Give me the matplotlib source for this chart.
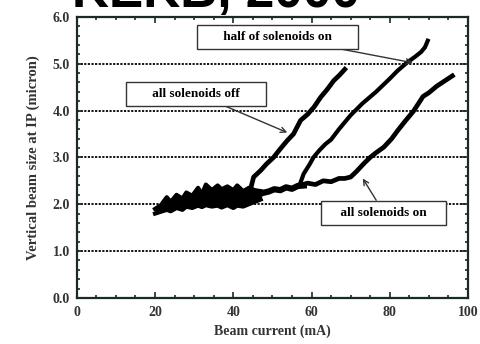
import numpy as np
import matplotlib.pyplot as plt
from matplotlib.ticker import MultipleLocator

# shared noisy region at low current (upper / lower edge of the blob)
base_x = [20, 21.5, 23, 24, 25.5, 27, 28, 29.5, 31, 32, 33, 34.5, 36, 37, 38.5, 40, 41, 42.5, 44, 45.5, 47]
base_hi = [1.90, 1.98, 2.15, 2.05, 2.20, 2.12, 2.25, 2.18, 2.35, 2.22, 2.42, 2.30, 2.40, 2.32, 2.38, 2.30, 2.40, 2.28, 2.35, 2.30, 2.28]
base_lo = [1.80, 1.84, 1.88, 1.85, 1.92, 1.88, 1.95, 1.92, 1.97, 1.94, 1.98, 1.95, 1.97, 1.93, 1.98, 1.92, 1.97, 1.95, 2.00, 2.05, 2.10]

# lower common band before "half" and "on" separate
low_x = [46, 47.5, 49, 50.5, 52, 53.5, 55, 56.5, 58]
low_y = [2.18, 2.24, 2.27, 2.32, 2.30, 2.36, 2.33, 2.39, 2.40]

off_x = [44.5, 45.2, 47, 48.5, 50.3, 52, 53.8, 55.4, 57.2, 59, 60.6, 62.3, 64, 65.7, 67.2, 68.5]
off_y = [2.35, 2.58, 2.72, 2.86, 3.00, 3.18, 3.36, 3.50, 3.79, 3.92, 4.07, 4.28, 4.45, 4.64, 4.76, 4.88]

half_x = [57, 58, 59.5, 60.5, 62, 63.5, 65, 67, 70, 73, 76.5, 80, 82, 84.5, 86.5, 88, 89, 89.7]
half_y = [2.42, 2.65, 2.85, 3.00, 3.15, 3.28, 3.38, 3.60, 3.90, 4.15, 4.40, 4.68, 4.85, 5.03, 5.15, 5.25, 5.35, 5.49]

on_x = [57, 59, 61, 63, 65, 67, 68.5, 70, 71.5, 73.4, 75, 76.5, 78.5, 80.5, 82, 84, 86, 87.5, 88.5, 90, 92, 94, 96]
on_y = [2.40, 2.45, 2.42, 2.50, 2.48, 2.55, 2.55, 2.58, 2.70, 2.87, 3.00, 3.10, 3.22, 3.40, 3.57, 3.78, 3.98, 4.17, 4.30, 4.38, 4.52, 4.63, 4.74]

serif = 'Liberation Serif'

fig = plt.figure(figsize=(4.8, 3.44), dpi=100)
ax = fig.add_axes([0.160, 0.134, 0.815, 0.817])

for yy in [1, 2, 3, 4, 5]:
    ax.axhline(yy, color='black', lw=1.3, ls=(0, (1.2, 0.8)), zorder=1)

ax.fill_between(base_x, base_lo, base_hi, color='black', lw=0, zorder=2)
ax.plot(base_x, base_hi, color='black', lw=3, zorder=2)
ax.plot(base_x, base_lo, color='black', lw=3, zorder=2)
ax.plot(low_x, low_y, color='black', lw=4.5, zorder=2)
ax.plot(off_x, off_y, color='black', lw=3.4, zorder=2)
ax.plot(half_x, half_y, color='black', lw=3, zorder=2)
ax.plot(on_x, on_y, color='black', lw=3.4, zorder=2)

box = dict(boxstyle='square,pad=0.45', fc='white', ec='#333333', lw=1.0)
arrow = dict(arrowstyle='->', color='#333333', lw=1.0, shrinkA=0, shrinkB=0)
tfont = dict(family=serif, fontweight='bold', fontsize=9.5)
ax.annotate('      half of solenoids on      ', xy=(85.9, 5.02), xytext=(51.3, 5.57),
            ha='center', va='center', bbox=box, arrowprops=arrow, **tfont)
ax.annotate('      all solenoids off      ', xy=(53.8, 3.53), xytext=(30.5, 4.36),
            ha='center', va='center', bbox=box, arrowprops=arrow, **tfont)
ax.annotate('    all solenoids on    ', xy=(73.1, 2.55), xytext=(78.5, 1.82),
            ha='center', va='center', bbox=box, arrowprops=arrow, **tfont)

ax.set_xlim(0, 100)
ax.set_ylim(0, 6)
ax.xaxis.set_minor_locator(MultipleLocator(5))
ax.yaxis.set_minor_locator(MultipleLocator(0.2))
ax.set_xticks([0, 20, 40, 60, 80, 100])
ax.set_xticklabels(['0', '20', '40', '60', '80', '100'])
ax.set_yticks([0, 1, 2, 3, 4, 5, 6])
ax.set_yticklabels(['0.0', '1.0', '2.0', '3.0', '4.0', '5.0', '6.0'])
ax.tick_params(which='both', direction='in', top=True, right=True, color='#1a2a24', width=1.2)
ax.tick_params(which='major', length=4)
ax.tick_params(which='minor', length=2.5)
for lab in ax.get_xticklabels() + ax.get_yticklabels():
    lab.set_family(serif)
    lab.set_fontweight('bold')
    lab.set_fontsize(10)
    lab.set_color('#333333')
ax.tick_params(axis='x', pad=6)
ax.tick_params(axis='y', pad=5)
for s in ax.spines.values():
    s.set_linewidth(1.6)
    s.set_color('#1a2a24')

ax.set_xlabel('Beam current (mA)', family=serif, fontweight='bold', fontsize=10, color='#333333', labelpad=4)
ax.set_ylabel('Vertical beam size at IP (micron)', family=serif, fontweight='bold', fontsize=10.5, color='#333333', labelpad=9)

fig.text(0.45, 0.981, 'KEKB, 2000', family='Liberation Sans', fontweight='bold', fontsize=37,
         ha='center', va='baseline')

fig.savefig('out.png', dpi=100)
